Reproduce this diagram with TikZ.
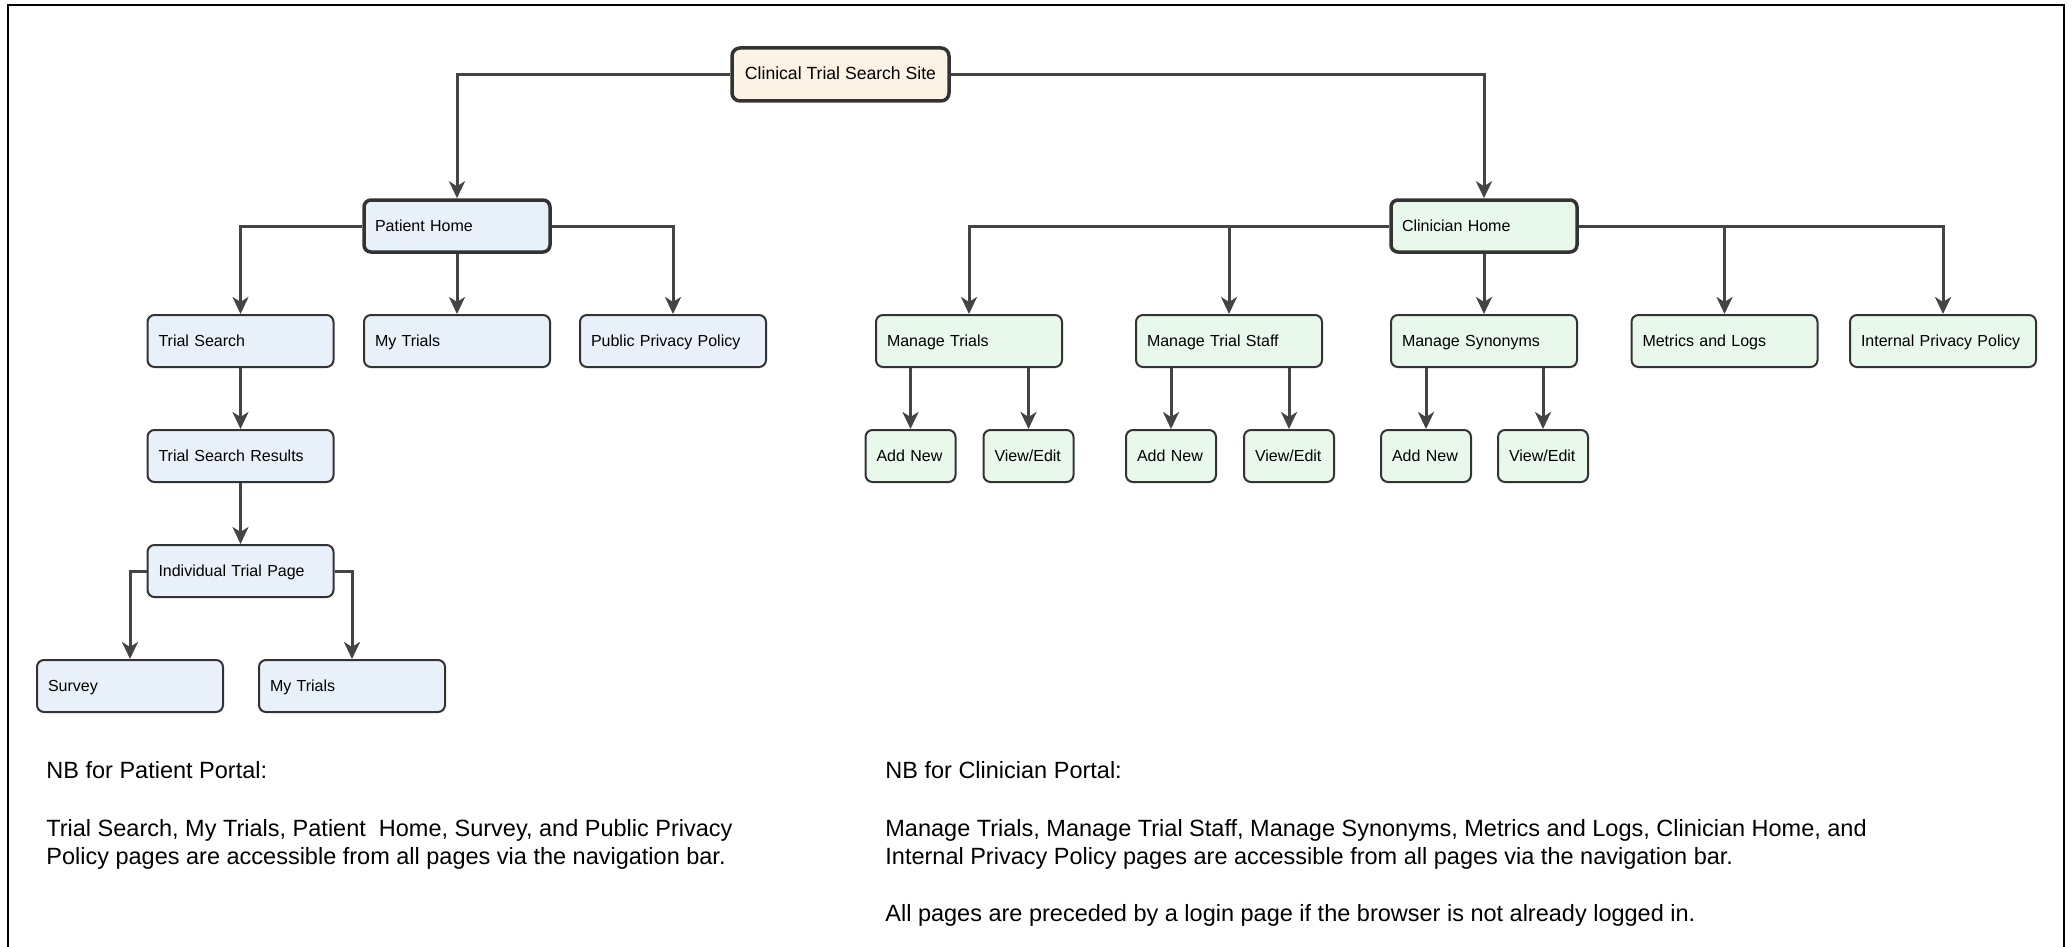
\documentclass[tikz,border=0pt]{standalone}
\usepackage{fontspec}
\setmainfont{Liberation Sans}
\usetikzlibrary{arrows.meta}

\definecolor{rootfill}{HTML}{FDF3E4}
\definecolor{patfill}{HTML}{E8F1FA}
\definecolor{clinfill}{HTML}{E8F8EA}
\definecolor{boxline}{HTML}{333333}
\definecolor{wireline}{HTML}{444444}

\begin{document}
\begin{tikzpicture}[x=0.5pt,y=-0.5pt,
  page/.style={draw=boxline, line width=1pt, rounded corners=3.5pt,
    minimum height=26pt, inner xsep=5.5pt, inner ysep=0pt,
    text height=6pt, text depth=1pt,
    align=left, text width=#1, font=\fontsize{8}{9.6}\selectfont},
  pbox/.style={page=82pt, fill=patfill},
  cbox/.style={page=82pt, fill=clinfill},
  sbox/.style={page=34pt, fill=clinfill},
  hub/.style={line width=1.75pt},
  rootbox/.style={draw=boxline, line width=1.75pt, rounded corners=4pt,
    fill=rootfill, minimum width=108.5pt, minimum height=26.5pt,
    inner sep=0pt, text height=6.5pt, text depth=1pt,
    font=\fontsize{8.8}{10}\selectfont},
  wire/.style={draw=wireline, line width=1.5pt,
    -{Stealth[length=8.5pt,width=8pt,inset=2.5pt]}},
  note/.style={anchor=base west, inner sep=0pt,
    font=\fontsize{11.75}{14}\selectfont}]

% canvas and frame
\useasboundingbox (0,0) rectangle (2072,947);
\draw[line width=1pt] (8,947) -- (8,5) -- (2064,5) -- (2064,947);

% site root
\node[rootbox] (root) at (840.5,74.5) {Clinical Trial Search Site};

% patient portal
\node[pbox,hub] (ph)  at (457,226)   {Patient Home};
\node[pbox] (ts)  at (240.5,341) {Trial Search};
\node[pbox] (mt)  at (457,341)   {My Trials};
\node[pbox] (ppp) at (673,341)   {Public Privacy Policy};
\node[pbox] (tsr) at (240.5,456) {Trial Search Results};
\node[pbox] (itp) at (240.5,571) {Individual Trial Page};
\node[pbox] (sv)  at (130,686)   {Survey};
\node[pbox] (mt2) at (352,686)   {My Trials};

% clinician portal
\node[cbox,hub] (ch)  at (1484,226) {Clinician Home};
\node[cbox] (mtr) at (969,341)    {Manage Trials};
\node[cbox] (mts) at (1229,341)   {Manage Trial Staff};
\node[cbox] (ms)  at (1484,341)   {Manage Synonyms};
\node[cbox] (ml)  at (1724.5,341) {Metrics and Logs};
\node[cbox] (ipp) at (1943,341)   {Internal Privacy Policy};
\node[sbox] (an1) at (910.5,456)  {Add New};
\node[sbox] (ve1) at (1028.5,456) {View/Edit};
\node[sbox] (an2) at (1171,456)   {Add New};
\node[sbox] (ve2) at (1289,456)   {View/Edit};
\node[sbox] (an3) at (1426,456)   {Add New};
\node[sbox] (ve3) at (1543,456)   {View/Edit};

% connectors
\draw[wire] (root.west) -| (ph.north);
\draw[wire] (root.east) -| (ch.north);

\draw[wire] (ph.west) -| (ts.north);
\draw[wire] (ph.south) -- (mt.north);
\draw[wire] (ph.east) -| (ppp.north);
\draw[wire] (ts.south) -- (tsr.north);
\draw[wire] (tsr.south) -- (itp.north);
\draw[wire] (itp.west) -| (sv.north);
\draw[wire] (itp.east) -| (mt2.north);

\draw[wire] (ch.west) -| (mtr.north);
\draw[wire] (ch.west) -| (mts.north);
\draw[wire] (ch.south) -- (ms.north);
\draw[wire] (ch.east) -| (ml.north);
\draw[wire] (ch.east) -| (ipp.north);

\draw[wire] (an1.north |- mtr.south) -- (an1.north);
\draw[wire] (ve1.north |- mtr.south) -- (ve1.north);
\draw[wire] (an2.north |- mts.south) -- (an2.north);
\draw[wire] (ve2.north |- mts.south) -- (ve2.north);
\draw[wire] (an3.north |- ms.south) -- (an3.north);
\draw[wire] (ve3.north |- ms.south) -- (ve3.north);

% notes
\node[note] (np1) at (46,778) {NB for Patient Portal:};
\node[note] (np2) at (46,836) {Trial Search, My Trials, Patient\ \ Home, Survey, and Public Privacy};
\node[note] (np3) at (46,864) {Policy pages are accessible from all pages via the navigation bar.};

\node[note] (nc1) at (885,778) {NB for Clinician Portal:};
\node[note] (nc2) at (885,836) {Manage Trials, Manage Trial Staff, Manage Synonyms, Metrics and Logs, Clinician Home, and};
\node[note] (nc3) at (885,864) {Internal Privacy Policy pages are accessible from all pages via the navigation bar.};
\node[note] (nc4) at (885,921) {All pages are preceded by a login page if the browser is not already logged in.};
\end{tikzpicture}
\end{document}
